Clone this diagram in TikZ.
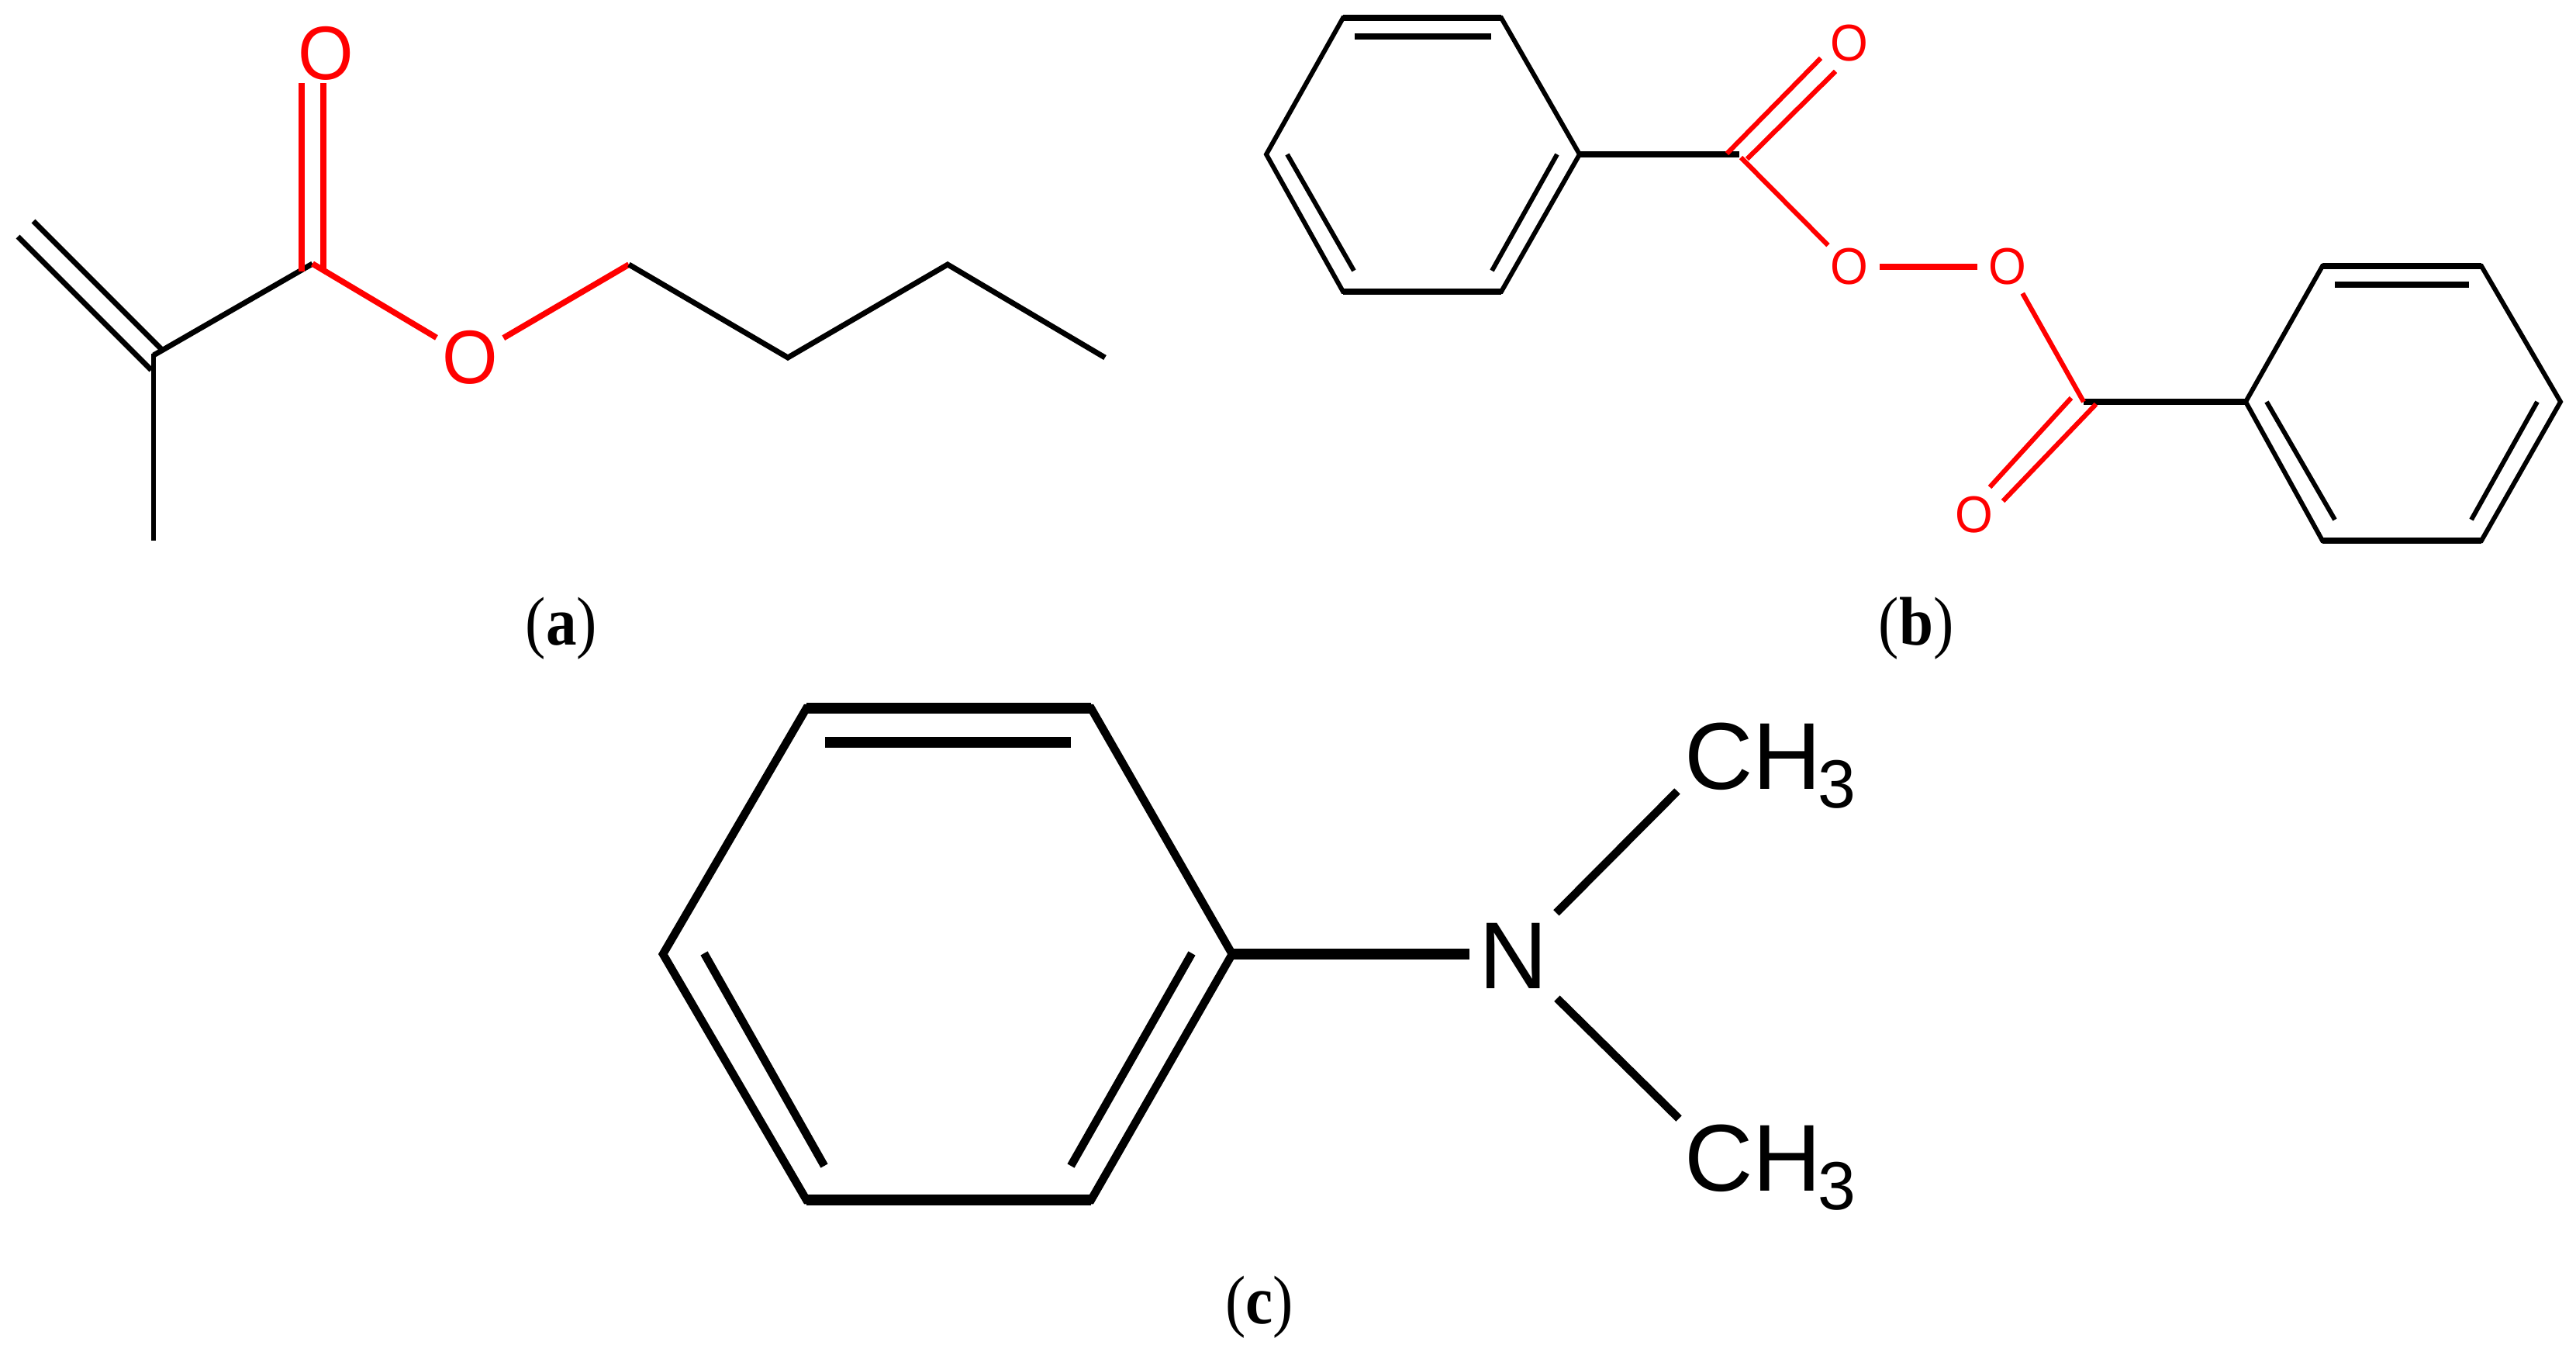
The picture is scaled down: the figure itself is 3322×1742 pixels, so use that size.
\documentclass[tikz,border=0pt]{standalone}
\usepackage{fontspec}
\setmainfont{Liberation Serif}
\newfontfamily\atomfont{Liberation Sans}
\definecolor{oxy}{RGB}{255,0,0}
\tikzset{
  bondA/.style={line width=7*0.567pt,black},
  bondB/.style={line width=6*0.567pt,black},
  bondBh/.style={line width=8*0.567pt,black},
  bondC/.style={line width=10.5*0.567pt,black},
  bondCh/.style={line width=13.5*0.567pt,black},
  redA/.style={line width=7.6*0.567pt,draw=oxy},
  redB/.style={line width=6.2*0.567pt,draw=oxy},
  redBh/.style={line width=8.5*0.567pt,draw=oxy},
  atomA/.style={circle,inner sep=0pt,minimum size=100*0.567pt,text=oxy,font=\atomfont\fontsize{54}{54}\selectfont},
  atomB/.style={circle,inner sep=0pt,minimum size=78*0.567pt,text=oxy,font=\atomfont\fontsize{36.8}{36.8}\selectfont},
  atomN/.style={rectangle,inner sep=0pt,minimum width=116*0.567pt,minimum height=110*0.567pt,font=\atomfont\fontsize{69.7}{69.7}\selectfont},
  methyl/.style={anchor=base west,inner sep=0pt,font=\atomfont\fontsize{69.7}{69.7}\selectfont},
  caption/.style={inner sep=0pt,font=\fontsize{45}{45}\selectfont},
}
\newcommand{\subthree}{\kern-2.5pt{\fontsize{50}{50}\selectfont\raisebox{-14pt}{3}}}
\newcommand{\oxyglyph}{\scalebox{0.97}[1.03]{O}}
\newcommand{\capt}[1]{\scalebox{1}[1.12]{(\textbf{#1})}}
\begin{document}
\begin{tikzpicture}[x=0.02cm,y=-0.02cm]
\useasboundingbox[fill=white] (0,0) rectangle (3322,1742);

% ---------- (a) butyl methacrylate
\node[atomA] (aO1) at (420,69) {\oxyglyph};
\node[atomA] (aO2) at (606,461) {\oxyglyph};
\coordinate (aV) at (198,458);
\coordinate (aC) at (403,340);
\coordinate (aD1s) at (43,285);
\coordinate (aD1e) at (208,450);
\coordinate (aD2s) at (23,305);
\coordinate (aD2e) at (195,477);
\coordinate (aMe) at (198,697);
\coordinate (aMt) at (198,456);
\coordinate (aL1) at (389,107);
\coordinate (aL2) at (389,350);
\coordinate (aR1) at (417,107);
\coordinate (aR2) at (417,348);
\coordinate (a1) at (811,341);
\coordinate (a2) at (1016,461);
\coordinate (a3) at (1222,341);
\coordinate (a4) at (1425,461);
\draw[bondA] (aD1s) -- (aD1e);
\draw[bondA] (aD2s) -- (aD2e);
\draw[bondA] (aMt) -- (aMe);
\draw[bondA] (aV) -- (aC);
\draw[redA] (aL1) -- (aL2);
\draw[redA] (aR1) -- (aR2);
\draw[redA] (aC) -- (aO2);
\draw[redA] (aO2) -- (a1);
\draw[bondA,line join=miter] (a1) -- (a2) -- (a3) -- (a4);
\node[caption] (capa) at (724,810) {\capt{a}};

% ---------- (b) benzoyl peroxide
\node[atomB] (bO1) at (2385,56) {\oxyglyph};
\node[atomB] (bO2) at (2385,344) {\oxyglyph};
\node[atomB] (bO3) at (2589,344) {\oxyglyph};
\node[atomB] (bO4) at (2546,664) {\oxyglyph};
\coordinate (p1) at (1732,23);
\coordinate (p2) at (1936,23);
\coordinate (p3) at (2037,199);
\coordinate (p4) at (1936,376);
\coordinate (p5) at (1732,376);
\coordinate (p6) at (1633,199);
\coordinate (pi1) at (1747,47);
\coordinate (pi2) at (1923,47);
\coordinate (pi3) at (2008,199);
\coordinate (pi4) at (1924,349);
\coordinate (pi5) at (1660,199);
\coordinate (pi6) at (1746,349);
\coordinate (bC1) at (2243,199);
\coordinate (bC1r) at (2245,203);
\coordinate (bD1a) at (2227,198);
\coordinate (bD1b) at (2348,75);
\coordinate (bD2a) at (2253,205);
\coordinate (bD2b) at (2367,92);
\draw[bondB,line join=miter] (p1) -- (p2) -- (p3) -- (p4) -- (p5) -- (p6) -- cycle;
\draw[bondBh] (p1) -- (p2);
\draw[bondBh] (p4) -- (p5);
\draw[bondBh] (pi1) -- (pi2);
\draw[bondB] (pi3) -- (pi4);
\draw[bondB] (pi5) -- (pi6);
\draw[bondBh] (p3) -- (bC1);
\draw[redB] (bD1a) -- (bD1b);
\draw[redB] (bD2a) -- (bD2b);
\draw[redB] (bC1r) -- (bO2);
\draw[redBh] (bO2) -- (bO3);
\coordinate (q1) at (2995,343);
\coordinate (q2) at (3200,343);
\coordinate (q3) at (3302,518);
\coordinate (q4) at (3200,697);
\coordinate (q5) at (2995,697);
\coordinate (q6) at (2896,518);
\coordinate (qi1) at (3011,367);
\coordinate (qi2) at (3184,367);
\coordinate (qi3) at (2923,518);
\coordinate (qi4) at (3011,670);
\coordinate (qi5) at (3272,518);
\coordinate (qi6) at (3187,670);
\coordinate (bC2) at (2687,518);
\coordinate (bD3a) at (2671,513);
\coordinate (bD3b) at (2566,628);
\coordinate (bD4a) at (2703,521);
\coordinate (bD4b) at (2583,646);
\draw[bondB,line join=miter] (q1) -- (q2) -- (q3) -- (q4) -- (q5) -- (q6) -- cycle;
\draw[bondBh] (q1) -- (q2);
\draw[bondBh] (q4) -- (q5);
\draw[bondBh] (qi1) -- (qi2);
\draw[bondB] (qi3) -- (qi4);
\draw[bondB] (qi5) -- (qi6);
\draw[bondBh] (bC2) -- (q6);
\draw[redB] (bO3) -- (bC2);
\draw[redB] (bD3a) -- (bD3b);
\draw[redB] (bD4a) -- (bD4b);
\node[caption] (capb) at (2471,810) {\capt{b}};

% ---------- (c) N,N-dimethylaniline
\node[atomN] (cN) at (1952,1232) {N};
\node[methyl] (cMe1) at (2172,1017) {CH\subthree};
\node[methyl] (cMe2) at (2172,1535) {CH\subthree};
\coordinate (r1) at (1040,913);
\coordinate (r2) at (1407,913);
\coordinate (r3) at (1589,1230);
\coordinate (r4) at (1407,1547);
\coordinate (r5) at (1040,1547);
\coordinate (r6) at (855,1230);
\coordinate (ri1) at (1064,957);
\coordinate (ri2) at (1381,957);
\coordinate (ri3) at (1537,1229);
\coordinate (ri4) at (1381,1503);
\coordinate (ri5) at (908,1229);
\coordinate (ri6) at (1063,1503);
\coordinate (cU) at (2163,1020);
\coordinate (cL) at (2165,1442);
\coordinate (cB) at (1895,1230);
\draw[bondC,line join=miter] (r1) -- (r2) -- (r3) -- (r4) -- (r5) -- (r6) -- cycle;
\draw[bondCh] (r1) -- (r2);
\draw[bondCh] (r4) -- (r5);
\draw[bondCh] (ri1) -- (ri2);
\draw[bondC] (ri3) -- (ri4);
\draw[bondC] (ri5) -- (ri6);
\draw[bondCh] (r3) -- (cB);
\draw[bondC] (cN) -- (cU);
\draw[bondC] (cN) -- (cL);
\node[caption] (capc) at (1624,1685) {\capt{c}};
\end{tikzpicture}
\end{document}
